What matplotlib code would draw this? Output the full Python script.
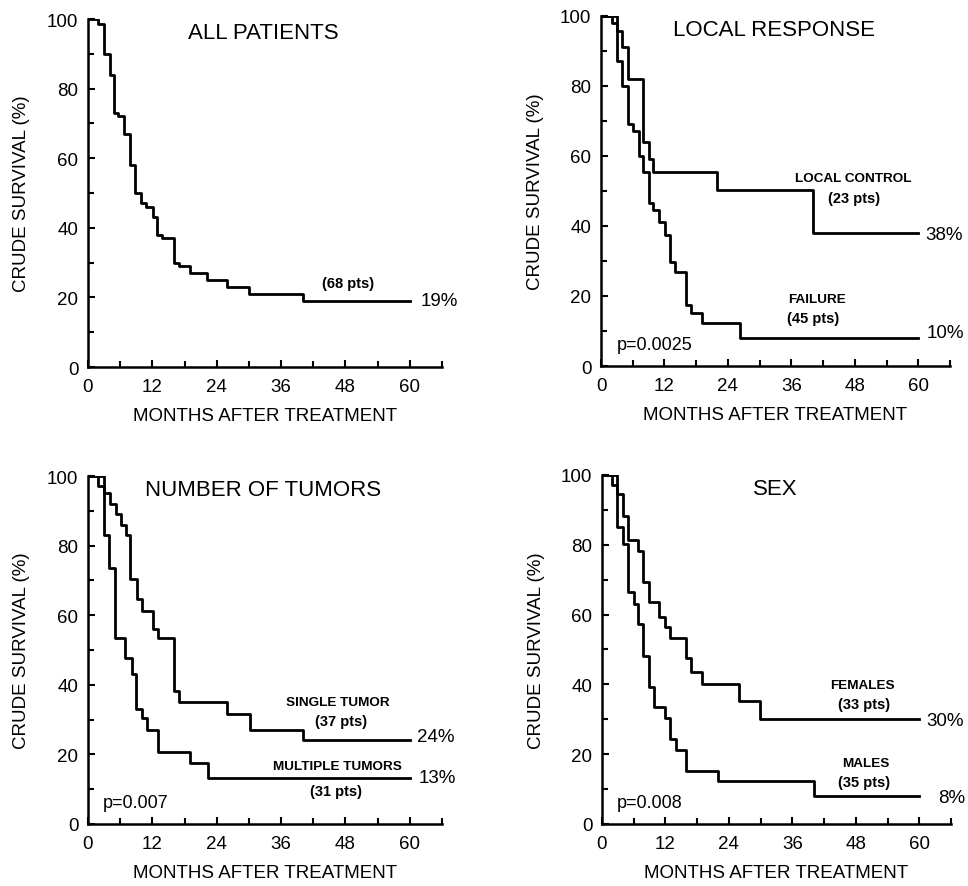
import matplotlib
matplotlib.use("Agg")
import matplotlib.pyplot as plt
from matplotlib.ticker import MultipleLocator

plt.rcParams['font.family'] = ['Liberation Sans', 'DejaVu Sans']

# ---------------- data (months, crude survival %) ----------------
all_t = [0, 1.9, 2.9, 4.1, 4.9, 5.6, 6.8, 7.9, 8.8, 9.9, 10.9, 12.1, 12.9, 13.8,
         16.0, 16.9, 19.1, 22.1, 26.0, 30.1, 40.0, 60]
all_s = [100, 98.5, 90, 84, 73, 72, 67, 58, 50, 47, 46, 43, 38, 37,
         30, 29, 27, 25, 23, 21, 19, 19]

lc_t = [0, 3.0, 4.0, 5.05, 8.0, 9.0, 9.9, 22.0, 40.0, 60]
lc_s = [100, 95.5, 91, 82, 64, 59, 55.5, 50.2, 38, 38]

fail_t = [0, 2.0, 3.0, 4.0, 5.05, 6.1, 7.1, 8.0, 9.0, 9.9, 10.9, 12.1, 13.1, 14.0,
          16.0, 17.0, 19.1, 26.2, 60]
fail_s = [100, 97.8, 87, 80, 69, 67, 60, 55.5, 46.5, 44.5, 41, 37.3, 29.7, 26.8,
          17.3, 15.1, 12.2, 7.9, 7.9]

single_t = [0, 2.9, 4.1, 5.2, 6.1, 7.1, 7.9, 9.1, 10.1, 12.1, 13.0, 16.0, 16.9,
            26.0, 30.2, 40.1, 60]
single_s = [100, 95, 92, 89, 86, 83, 70.4, 64.7, 61.3, 56, 53.4, 38.3, 35.1,
            31.6, 27.1, 24, 24]

multi_t = [0, 1.9, 2.9, 3.9, 5.0, 6.9, 8.2, 8.9, 10.1, 11.0, 13.0, 19.0, 22.3, 60]
multi_s = [100, 97, 83, 73.5, 53.5, 47.6, 43.1, 33, 30.4, 27.1, 20.6, 17.5, 13.1, 13.1]

fem_t = [0, 2.8, 3.9, 4.9, 6.9, 7.8, 8.9, 10.8, 11.9, 12.9, 15.8, 16.8, 18.9,
         25.9, 29.9, 60]
fem_s = [100, 94.6, 88.3, 81.4, 78.3, 69.2, 63.5, 59.2, 56.4, 53.3, 47.5, 43.5, 40.1,
         35.1, 30.1, 30.1]

male_t = [0, 1.85, 2.8, 3.9, 4.9, 6.0, 6.9, 7.8, 8.9, 9.85, 11.9, 12.9, 13.96,
          15.9, 21.9, 40.1, 60]
male_s = [100, 97, 85, 80.2, 66.5, 63, 57.3, 48.2, 39.2, 33.4, 30.3, 24.4, 21.2,
          15.3, 12.4, 8, 8]

x_ticks = [0, 12, 24, 36, 48, 60]
y_ticks = [0, 20, 40, 60, 80, 100]

titles = ["ALL PATIENTS", "LOCAL RESPONSE", "NUMBER OF TUMORS", "SEX"]
xlabel = "MONTHS AFTER TREATMENT"
ylabel = "CRUDE SURVIVAL (%)"

# ---------------- figure ----------------
fig = plt.figure(figsize=(9.68, 8.87), dpi=100)
positions = [
    [0.0909, 0.5851, 0.3657, 0.3923],
    [0.6209, 0.5862, 0.3605, 0.3950],
    [0.0909, 0.0699, 0.3657, 0.3923],
    [0.6219, 0.0699, 0.3605, 0.3935],
]
axes = [fig.add_axes(p) for p in positions]

LW = 2.0
for ax, title in zip(axes, titles):
    ax.set_xlim(0, 66)
    ax.set_ylim(0, 100)
    ax.spines['top'].set_visible(False)
    ax.spines['right'].set_visible(False)
    ax.spines['left'].set_linewidth(1.8)
    ax.spines['bottom'].set_linewidth(1.8)
    ax.set_xticks(x_ticks)
    ax.set_yticks(y_ticks)
    ax.xaxis.set_minor_locator(MultipleLocator(6))
    ax.yaxis.set_minor_locator(MultipleLocator(10))
    ax.tick_params(which='both', direction='in', width=1.5, labelsize=13.5,
                   colors='black')
    ax.tick_params(which='major', length=5)
    ax.tick_params(which='minor', length=4)
    ax.tick_params(axis='x', pad=8)
    ax.tick_params(axis='y', pad=7)
    ax.set_xlabel(xlabel, fontsize=13.5)
    ax.set_ylabel(ylabel, fontsize=13.5)
    ax.xaxis.label.set_va('center')
    ax.yaxis.label.set_va('center')
    ax.xaxis.set_label_coords(0.5, -0.139)
    ax.yaxis.set_label_coords(-0.187, 0.5)
    ax.text(32.7, 96, title, ha='center', va='center', fontsize=16)

bold_small = dict(fontsize=9.7, fontweight='bold', ha='center', va='center')
pts = dict(fontsize=10.5, fontweight='bold', ha='center', va='center')
pct = dict(fontsize=13.5, ha='left', va='center')
pval = dict(fontsize=13, ha='left', va='center')

# Panel 1
ax = axes[0]
ax.step(all_t, all_s, where='post', color='black', lw=LW)
ax.text(48.4, 24.2, "(68 pts)", **pts)
ax.text(62.1, 19, "19%", **pct)

# Panel 2
ax = axes[1]
ax.step(lc_t, lc_s, where='post', color='black', lw=LW)
ax.step(fail_t, fail_s, where='post', color='black', lw=LW)
ax.text(47.7, 53.8, "LOCAL CONTROL", **bold_small)
ax.text(47.9, 47.9, "(23 pts)", **pts)
ax.text(61.3, 37.6, "38%", **pct)
ax.text(40.8, 19, "FAILURE", **bold_small)
ax.text(40.2, 13.8, "(45 pts)", **pts)
ax.text(61.6, 9.5, "10%", **pct)
ax.text(3.0, 6.2, "p=0.0025", **pval)

# Panel 3
ax = axes[2]
ax.step(single_t, single_s, where='post', color='black', lw=LW)
ax.step(multi_t, multi_s, where='post', color='black', lw=LW)
ax.text(46.6, 35.1, "SINGLE TUMOR", **bold_small)
ax.text(47.2, 29.7, "(37 pts)", **pts)
ax.text(61.3, 25.2, "24%", **pct)
ax.text(46.6, 16.6, "MULTIPLE TUMORS", **bold_small)
ax.text(46.3, 9.6, "(31 pts)", **pts)
ax.text(61.6, 13.4, "13%", **pct)
ax.text(2.8, 6.2, "p=0.007", **pval)

# Panel 4
ax = axes[3]
ax.step(fem_t, fem_s, where='post', color='black', lw=LW)
ax.step(male_t, male_s, where='post', color='black', lw=LW)
ax.text(49.3, 39.8, "FEMALES", **bold_small)
ax.text(49.6, 34.4, "(33 pts)", **pts)
ax.text(61.3, 29.6, "30%", **pct)
ax.text(49.9, 17.5, "MALES", **bold_small)
ax.text(49.6, 11.9, "(35 pts)", **pts)
ax.text(63.5, 7.6, "8%", **pct)
ax.text(2.8, 6.2, "p=0.008", **pval)

fig.savefig("out.png", dpi=100)
